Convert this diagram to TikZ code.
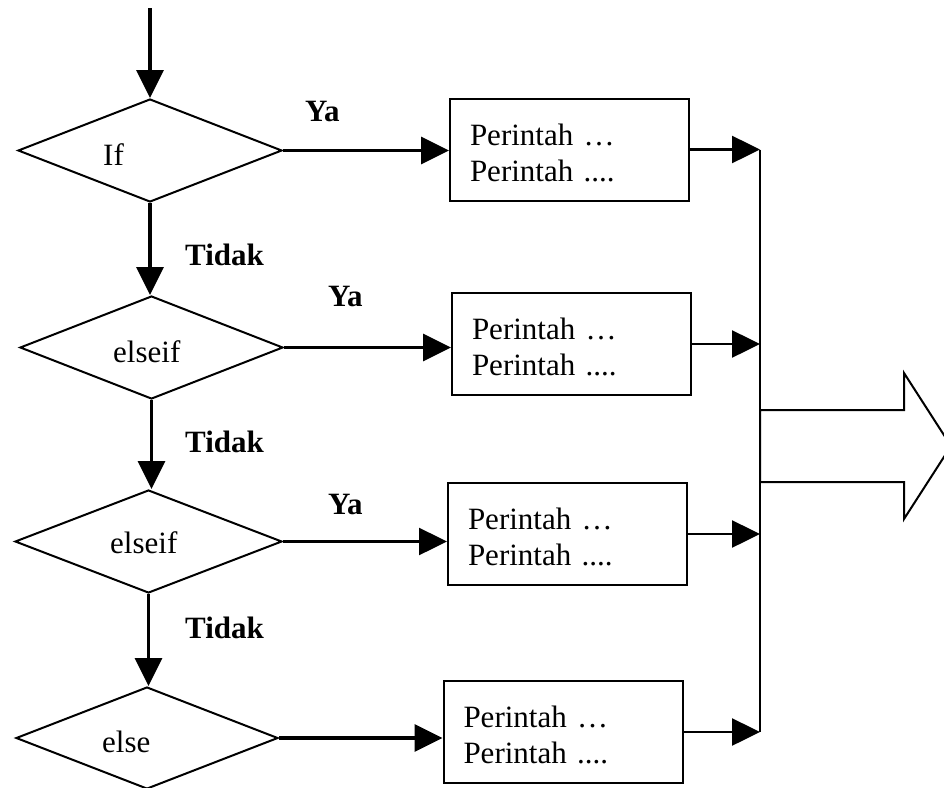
\documentclass[tikz,border=0pt]{standalone}
\usepackage{fontspec}
\setmainfont{Liberation Serif}
\usetikzlibrary{arrows.meta,shapes.geometric}

\tikzset{
  cond/.style={draw, diamond, line width=2pt, inner sep=0pt},
  cmd/.style={draw, rectangle, line width=2pt, minimum width=239pt, minimum height=102pt,
              text width=199pt, inner xsep=20pt, align=left,
              execute at begin node={\rule{0pt}{28pt}}},
  lbl/.style={anchor=base west, inner sep=0pt},
  arr/.style={-{Triangle[length=28pt,width=27pt]}, line width=3.5pt},
  thinarr/.style={arr, line width=2.5pt}
}

\begin{document}
\fontsize{31}{36}\selectfont
\begin{tikzpicture}[x=1pt, y=-1pt]
    \clip (0,0) rectangle (944,787);
    % conditions
    \node[cond, minimum width=264pt, minimum height=103pt] (d1) at (150,150.5) {};
    \node[cond, minimum width=263pt, minimum height=103pt] (d2) at (151.5,347.5) {};
    \node[cond, minimum width=267pt, minimum height=103pt] (d3) at (148.5,541.5) {};
    \node[cond, minimum width=262pt, minimum height=102pt] (d4) at (147,738) {};
    \node[lbl] (t1) at (103,165) {If};
    \node[lbl] (t2) at (113,362) {elseif};
    \node[lbl] (t3) at (110,553) {elseif};
    \node[lbl] (t4) at (102,752) {else};
    % statement blocks
    \node[cmd] (b1) at (569.5,149.5) {Perintah …\\Perintah ....};
    \node[cmd] (b2) at (571.5,344) {Perintah …\\Perintah ....};
    \node[cmd] (b3) at (567.5,534) {Perintah …\\Perintah ....};
    \node[cmd] (b4) at (563,732) {Perintah …\\Perintah ....};
    % branch labels
    \node[lbl, font=\bfseries] (ya1) at (305,121) {Ya};
    \node[lbl, font=\bfseries] (ya2) at (328,306) {Ya};
    \node[lbl, font=\bfseries] (ya3) at (328,514) {Ya};
    \node[lbl, font=\bfseries] (no1) at (185,265) {Tidak};
    \node[lbl, font=\bfseries] (no2) at (185,452) {Tidak};
    \node[lbl, font=\bfseries] (no3) at (185,638) {Tidak};
    \coordinate (start) at (150,8);
    \coordinate (bus) at (760,0);
    % flow
    \draw[arr] (start) -- (d1.north);
    \draw[arr] (d1.south) -- (d1.south |- d2.north);
    \draw[arr] (d2.south) -- (d2.south |- d3.north);
    \draw[arr] (d3.south) -- (d3.south |- d4.north);
    \draw[arr] (d1.east) -- (d1.east -| b1.west);
    \draw[arr] (d2.east) -- (d2.east -| b2.west);
    \draw[thinarr] (d3.east) -- (d3.east -| b3.west);
    \draw[arr] (d4.east) -- (d4.east -| b4.west);
    \foreach \b in {b1,b2,b3,b4}
      \draw[thinarr] (\b.east) -- (\b.east -| bus);
    \draw[line width=2pt] (b1.east -| bus) -- (b4.east -| bus);
    % output arrow
    \draw[line width=2pt] (760,410) -- (904,410) -- (904,373) -- (951,446)
      -- (904,519) -- (904,482) -- (760,482) -- cycle;
\end{tikzpicture}
\end{document}
